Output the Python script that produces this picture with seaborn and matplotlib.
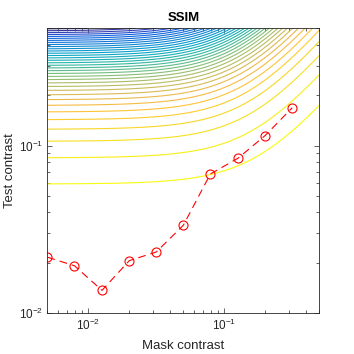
import numpy as np
import matplotlib
matplotlib.use("Agg")
import matplotlib.pyplot as plt
from matplotlib.colors import LinearSegmentedColormap
import seaborn as sns

# Threshold data (red dipper curve)
mask_contrast = [0.005, 0.0079, 0.0126, 0.02, 0.0316, 0.05, 0.079, 0.126, 0.2, 0.316]
test_contrast = [0.0216, 0.0192, 0.0137, 0.0206, 0.0232, 0.0335, 0.0677, 0.084, 0.1148, 0.168]

# SSIM contours: test contrast where each contour meets the left edge (low mask)
contour_levels = [0.059, 0.0845, 0.106, 0.125, 0.1425, 0.1585, 0.1735, 0.1875,
                  0.2005, 0.2128, 0.2245, 0.2358, 0.2468, 0.2576, 0.2683, 0.2789,
                  0.2895, 0.3001, 0.3107, 0.3214, 0.3322, 0.3431, 0.3541, 0.3652,
                  0.3764, 0.3877, 0.3991, 0.4106, 0.4222, 0.4339, 0.4458, 0.4578,
                  0.4700, 0.4824, 0.4950]

# masking shape of the contours (knee mask contrast, slope, level dependence)
knee_mask = 0.156
mask_slope = 1.6
level_gain = 0.32

# MATLAB parula, sampled
parula_pos = [0.0, 0.048, 0.079, 0.111, 0.238, 0.365, 0.492, 0.619, 0.746,
              0.810, 0.841, 0.873, 0.937, 1.0]
parula_rgb = [(0.2081, 0.1663, 0.5292), (0.2081, 0.2386, 0.6771),
              (0.1707, 0.2919, 0.7792), (0.0591, 0.3598, 0.8683),
              (0.0779, 0.5040, 0.8384), (0.0231, 0.6418, 0.7913),
              (0.1801, 0.7177, 0.6424), (0.5300, 0.7491, 0.4661),
              (0.8185, 0.7327, 0.3498), (0.9450, 0.7261, 0.2886),
              (0.9938, 0.7455, 0.2403), (0.9955, 0.7861, 0.1967),
              (0.9626, 0.8705, 0.1309), (0.9763, 0.9831, 0.0538)]
parula = LinearSegmentedColormap.from_list("parula", list(zip(parula_pos, parula_rgb)))

sns.set_style("ticks")
plt.rcParams['font.family'] = ['Liberation Sans', 'DejaVu Sans']
plt.rcParams['axes.linewidth'] = 0.6

fig = plt.figure(figsize=(3.54, 3.54), dpi=100)
ax = fig.add_axes([0.134, 0.115, 0.768, 0.805])

# contour surface on a log grid
mg, tg = np.meshgrid(np.logspace(np.log10(0.005), np.log10(0.5), 400),
                     np.logspace(-2, np.log10(0.5), 400))
field = tg / np.sqrt(1 + (mg / knee_mask) ** mask_slope * (tg / 0.1) ** level_gain)

n = len(contour_levels)
line_colors = [parula(1 - i / (n - 1)) for i in range(n)]
ax.contour(mg, tg, field, levels=contour_levels, colors=line_colors, linewidths=0.8)

sns.lineplot(x=mask_contrast, y=test_contrast, ax=ax, color='red',
             linestyle=(0, (7, 4.5)), linewidth=0.8, marker='o', markersize=6.5,
             markerfacecolor='none', markeredgecolor='red', markeredgewidth=0.8,
             dashes=False)

ax.set_xscale('log')
ax.set_yscale('log')
ax.set_xlim(0.005, 0.5)
ax.set_ylim(0.01, 0.5)

ax.tick_params(which='both', direction='in', top=True, right=True,
               colors='#262626', labelsize=8.5, width=0.5)
ax.tick_params(which='major', length=3.5, pad=3)
ax.tick_params(which='minor', length=2)
for s in ax.spines.values():
    s.set_color('#262626')

ax.set_xlabel('Mask contrast', fontsize=9.5, color='#262626', labelpad=5)
ax.set_ylabel('Test contrast', fontsize=9.5, color='#262626', labelpad=2)
ax.set_title('SSIM', fontsize=9.5, fontweight='bold', color='black', pad=5)

plt.savefig('out.png', dpi=100)
